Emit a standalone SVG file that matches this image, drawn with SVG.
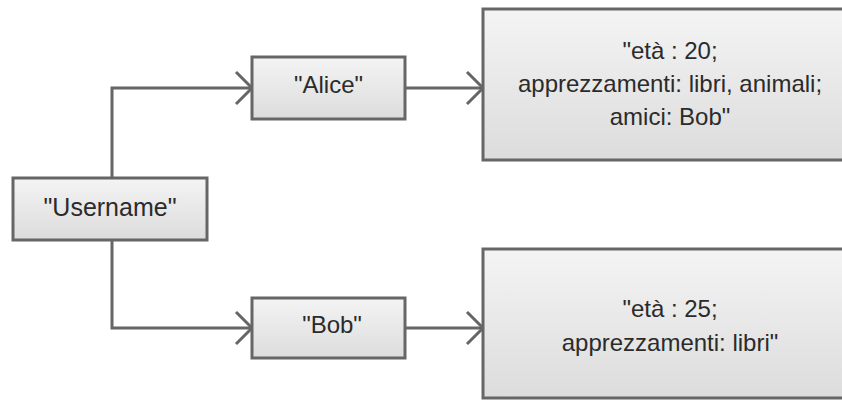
<svg xmlns="http://www.w3.org/2000/svg" width="842" height="400" viewBox="0 0 842 400">
  <defs>
    <linearGradient id="boxFill" x1="0" y1="0" x2="0" y2="1">
      <stop offset="0" stop-color="#f4f4f4"/>
      <stop offset="1" stop-color="#dcdcdc"/>
    </linearGradient>
    <marker id="chev" markerUnits="userSpaceOnUse" viewBox="-3 -19 22 38" markerWidth="22" markerHeight="38" refX="16" refY="0" orient="auto">
      <path d="M0,-16 L16,0 L0,16" fill="none" stroke="#666666" stroke-width="3"/>
    </marker>
    <style>
      .box { fill: url(#boxFill); stroke: #666666; stroke-width: 3; }
      .conn { fill: none; stroke: #666666; stroke-width: 3; marker-end: url(#chev); }
      .lbl { font-family: "Liberation Sans", Arial, sans-serif; font-size: 24px; fill: #2b2b2b; text-anchor: middle; }
    </style>
  </defs>
  <rect width="842" height="400" fill="#ffffff"/>
  <g id="connectors">
    <path class="conn" d="M112,178 L112,88 L252,88"/>
    <path class="conn" d="M112,240 L112,328 L252,328"/>
    <path class="conn" d="M405,88 L483,88"/>
    <path class="conn" d="M405,328 L483,328"/>
  </g>
  <g id="username">
    <rect class="box" x="13" y="178" width="194" height="62"/>
    <text class="lbl" x="110" y="216" style="font-size:25px">"Username"</text>
  </g>
  <g id="alice">
    <rect class="box" x="252" y="57" width="153" height="62"/>
    <text class="lbl" x="328.5" y="93">"Alice"</text>
  </g>
  <g id="bob">
    <rect class="box" x="252" y="298" width="153" height="60"/>
    <text class="lbl" x="332" y="333">"Bob"</text>
  </g>
  <g id="alice-data">
    <rect class="box" x="483" y="9" width="380" height="151"/>
    <text class="lbl" x="670" y="59">"età : 20;</text>
    <text class="lbl" x="670" y="92">apprezzamenti: libri, animali;</text>
    <text class="lbl" x="670" y="125">amici: Bob"</text>
  </g>
  <g id="bob-data">
    <rect class="box" x="483" y="249" width="380" height="149"/>
    <text class="lbl" x="670" y="317">"età : 25;</text>
    <text class="lbl" x="670" y="351">apprezzamenti: libri"</text>
  </g>
</svg>
